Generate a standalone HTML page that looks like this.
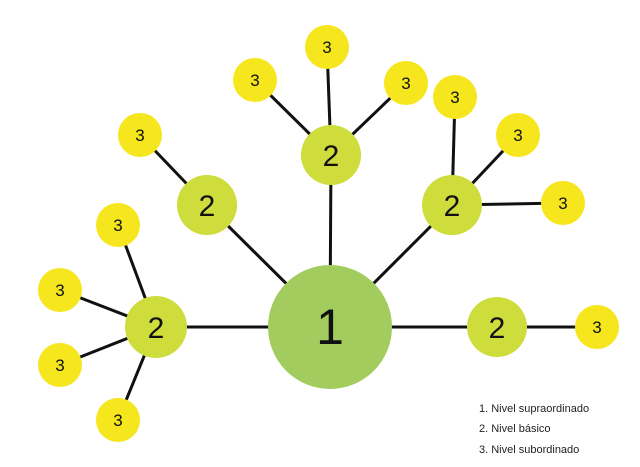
<!DOCTYPE html>
<html><head><meta charset="utf-8"><style>body{margin:0;background:#fff}svg{display:block}</style></head><body>
<svg width="640" height="467" xmlns="http://www.w3.org/2000/svg" font-family="Liberation Sans, sans-serif">
<g stroke="#111" stroke-width="3">
<line x1="330" y1="327" x2="156" y2="327"/><line x1="330" y1="327" x2="207" y2="205"/><line x1="330" y1="327" x2="331" y2="155"/><line x1="330" y1="327" x2="452" y2="205"/><line x1="330" y1="327" x2="497" y2="327"/>
<line x1="156" y1="327" x2="118" y2="225"/><line x1="156" y1="327" x2="60" y2="290"/><line x1="156" y1="327" x2="60" y2="365"/><line x1="156" y1="327" x2="118" y2="420"/>
<line x1="207" y1="205" x2="140" y2="135"/>
<line x1="331" y1="155" x2="255" y2="80"/><line x1="331" y1="155" x2="327" y2="47"/><line x1="331" y1="155" x2="406" y2="83"/>
<line x1="452" y1="205" x2="455" y2="97"/><line x1="452" y1="205" x2="518" y2="135"/><line x1="452" y1="205" x2="563" y2="203"/>
<line x1="497" y1="327" x2="597" y2="327"/>
</g>
<circle cx="330" cy="327" r="62" fill="#a3cc5e"/>
<g fill="#cedc3c"><circle cx="156" cy="327" r="31"/><circle cx="207" cy="205" r="30"/><circle cx="331" cy="155" r="30"/><circle cx="452" cy="205" r="30"/><circle cx="497" cy="327" r="30"/></g>
<g fill="#f5e61e"><circle cx="140" cy="135" r="22"/><circle cx="118" cy="225" r="22"/><circle cx="60" cy="290" r="22"/><circle cx="60" cy="365" r="22"/><circle cx="118" cy="420" r="22"/><circle cx="255" cy="80" r="22"/><circle cx="327" cy="47" r="22"/><circle cx="406" cy="83" r="22"/><circle cx="455" cy="97" r="22"/><circle cx="518" cy="135" r="22"/><circle cx="563" cy="203" r="22"/><circle cx="597" cy="327" r="22"/></g>
<text x="330" y="344" font-size="50" text-anchor="middle" fill="#111">1</text>
<g font-size="30" text-anchor="middle" fill="#111"><text x="156" y="338">2</text><text x="207" y="216">2</text><text x="331" y="166">2</text><text x="452" y="216">2</text><text x="497" y="338">2</text></g>
<g font-size="17" text-anchor="middle" fill="#111"><text x="140" y="141">3</text><text x="118" y="231">3</text><text x="60" y="296">3</text><text x="60" y="371">3</text><text x="118" y="426">3</text><text x="255" y="86">3</text><text x="327" y="53">3</text><text x="406" y="89">3</text><text x="455" y="103">3</text><text x="518" y="141">3</text><text x="563" y="209">3</text><text x="597" y="333">3</text></g>
<g font-size="11" fill="#222"><text x="479" y="412">1. Nivel supraordinado</text><text x="479" y="432">2. Nivel básico</text><text x="479" y="453">3. Nivel subordinado</text></g>
</svg>
</body></html>
